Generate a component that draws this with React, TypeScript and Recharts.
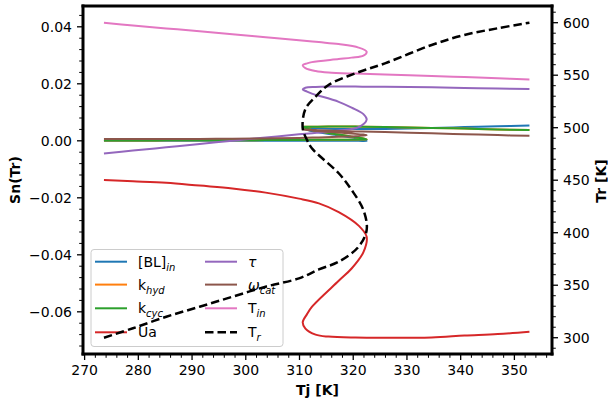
import React from 'react';
import { LineChart, Line, XAxis, YAxis, ReferenceLine } from 'recharts';

// points along the steady-state branch, in order of increasing Tr
const tjValues = [273.6, 279.0, 285.2, 291.4, 297.5, 303.7, 309.9, 313.6, 317.3, 321.0, 322.5, 321.9, 319.7, 317.3, 312.3, 311.4, 310.6, 311.1, 313.0, 315.4, 320.4, 325.9, 334.6, 340.7, 346.9, 352.8];
const trValues = [300.0, 309.0, 320.0, 329.5, 339.0, 348.6, 356.5, 365.0, 372.4, 386.7, 402.6, 421.6, 440.7, 456.6, 480.4, 488.3, 499.4, 517.8, 529.5, 540.7, 551.8, 561.3, 578.8, 588.3, 594.7, 600.0];

// normalised sensitivities Sn(Tr) for each parameter
const blIn = [0.00004, 0.00004, 0.00004, 0.00003, 0.00003, 0.00003, 0.00002, 0.00002, 0.00001, 0.0, -0.00001, 0.00042, 0.00112, 0.00189, 0.0034, 0.00393, 0.00446, 0.00453, 0.00439, 0.00425, 0.00411, 0.00418, 0.00453, 0.00481, 0.00509, 0.0054];
const kHyd = [0.00014, 0.00014, 0.00016, 0.00018, 0.00021, 0.00025, 0.00032, 0.00035, 0.00039, 0.00042, 0.00049, 0.00084, 0.00147, 0.00218, 0.00375, 0.00428, 0.00481, 0.00491, 0.00495, 0.00498, 0.00498, 0.00488, 0.00453, 0.00428, 0.004, 0.00375];
const kCyc = [0.00014, 0.00014, 0.00016, 0.00018, 0.00021, 0.00025, 0.00032, 0.00035, 0.00039, 0.00042, 0.00049, 0.00084, 0.00147, 0.00218, 0.00375, 0.00428, 0.00481, 0.00491, 0.00495, 0.00498, 0.00498, 0.00488, 0.00453, 0.00428, 0.004, 0.00375];
const ua = [-0.01379, -0.01421, -0.01474, -0.01572, -0.0167, -0.01818, -0.02028, -0.02196, -0.02502, -0.02975, -0.03368, -0.03905, -0.04480, -0.04912, -0.05825, -0.06081, -0.06362, -0.06589, -0.068, -0.0687, -0.06905, -0.06912, -0.06898, -0.06835, -0.06782, -0.06702];
const tau = [-0.00442, -0.00344, -0.00228, -0.00112, 0.00004, 0.00116, 0.00228, 0.00288, 0.00358, 0.00481, 0.00744, 0.00937, 0.01165, 0.01368, 0.01656, 0.01726, 0.01804, 0.01863, 0.01891, 0.01902, 0.01902, 0.01895, 0.01877, 0.01856, 0.01835, 0.01814];
const omegaCat = [0.0006, 0.0006, 0.00063, 0.00067, 0.00074, 0.00084, 0.00102, 0.00119, 0.0014, 0.00172, 0.002, 0.00218, 0.00253, 0.00288, 0.00358, 0.00375, 0.00396, 0.00393, 0.00375, 0.00358, 0.0033, 0.00305, 0.00263, 0.00232, 0.002, 0.00175];
const tIn = [0.0414, 0.04049, 0.03944, 0.03842, 0.03737, 0.03635, 0.0353, 0.03463, 0.03393, 0.0327, 0.03123, 0.02989, 0.02919, 0.02867, 0.02761, 0.02716, 0.02656, 0.02551, 0.02446, 0.02393, 0.02358, 0.0233, 0.02277, 0.02235, 0.02193, 0.02154];

const rows = tjValues.map((tj, i) => ({
  tj,
  tr: trValues[i],
  bl: blIn[i],
  khyd: kHyd[i],
  kcyc: kCyc[i],
  ua: ua[i],
  tau: tau[i],
  wcat: omegaCat[i],
  tin: tIn[i],
}));

const series = [
  { key: 'bl', color: '#1f77b4', base: '[BL]', sub: 'in', italic: false },
  { key: 'khyd', color: '#ff7f0e', base: 'k', sub: 'hyd', italic: false },
  { key: 'kcyc', color: '#2ca02c', base: 'k', sub: 'cyc', italic: false },
  { key: 'ua', color: '#d62728', base: 'Ua', sub: '', italic: false },
  { key: 'tau', color: '#9467bd', base: 'τ', sub: '', italic: true },
  { key: 'wcat', color: '#8c564b', base: 'ω', sub: 'cat', italic: true },
  { key: 'tin', color: '#e377c2', base: 'T', sub: 'in', italic: false },
];

const W = 608;
const H = 403;
const FONT = '"DejaVu Sans", sans-serif';
const X_DOMAIN: [number, number] = [269.7, 357.0];
const LEFT_DOMAIN: [number, number] = [-0.0748, 0.0473];
const RIGHT_DOMAIN: [number, number] = [284.5, 615.9];
const MARGIN = { top: 6, right: 0, bottom: 0, left: 0 };

const range = (a: number, b: number, step: number) => {
  const out: number[] = [];
  for (let v = a; v <= b + step / 1000; v += step) out.push(Math.round(v * 1e6) / 1e6);
  return out;
};
const xTicks = range(270, 356, 2);
const leftTicks = range(-0.072, 0.044, 0.004);
const rightTicks = range(290, 610, 10);

const isMajor = (v: number, step: number) => Math.abs(v / step - Math.round(v / step)) < 1e-6;
const minus = (s: string) => s.replace('-', '\u2212');

// centripetal Catmull-Rom curve: the branches fold back in x, so a
// parametric curve is needed (monotone curves would break at the turns)
function catmullRom(context: any) {
  let pts: number[][] = [];
  return {
    areaStart() {},
    areaEnd() {},
    lineStart() {
      pts = [];
    },
    point(x: number, y: number) {
      pts.push([+x, +y]);
    },
    lineEnd() {
      const n = pts.length;
      if (!n) return;
      context.moveTo(pts[0][0], pts[0][1]);
      const dist = (a: number[], b: number[]) => Math.hypot(b[0] - a[0], b[1] - a[1]);
      for (let i = 0; i < n - 1; i++) {
        const p0 = pts[Math.max(i - 1, 0)];
        const p1 = pts[i];
        const p2 = pts[i + 1];
        const p3 = pts[Math.min(i + 2, n - 1)];
        const l01 = dist(p0, p1);
        const l12 = dist(p1, p2);
        const l23 = dist(p2, p3);
        const l01a = Math.sqrt(l01);
        const l12a = Math.sqrt(l12);
        const l23a = Math.sqrt(l23);
        let c1x = p1[0];
        let c1y = p1[1];
        let c2x = p2[0];
        let c2y = p2[1];
        if (l01a > 1e-6) {
          const a = 2 * l01 + 3 * l01a * l12a + l12;
          const m = 3 * l01a * (l01a + l12a);
          c1x = (p1[0] * a - p0[0] * l12 + p2[0] * l01) / m;
          c1y = (p1[1] * a - p0[1] * l12 + p2[1] * l01) / m;
        }
        if (l23a > 1e-6) {
          const b = 2 * l23 + 3 * l23a * l12a + l12;
          const m = 3 * l23a * (l23a + l12a);
          c2x = (p2[0] * b + p1[0] * l23 - p3[0] * l12) / m;
          c2y = (p2[1] * b + p1[1] * l23 - p3[1] * l12) / m;
        }
        context.bezierCurveTo(c1x, c1y, c2x, c2y, p2[0], p2[1]);
      }
    },
  };
}

function BottomTick(props: any) {
  const { x, y, payload } = props;
  const major = isMajor(payload.value, 10);
  return (
    <g>
      <line x1={x} x2={x} y1={y} y2={y + (major ? 6 : 3.8)} stroke="#000" strokeWidth={major ? 1.3 : 1} />
      {major && (
        <text x={x} y={y + 21} textAnchor="middle" fontSize={14} fontFamily={FONT} fill="#000">
          {String(payload.value)}
        </text>
      )}
    </g>
  );
}

function LeftTick(props: any) {
  const { x, y, payload } = props;
  const major = isMajor(payload.value, 0.02);
  return (
    <g>
      <line x1={x} x2={x - (major ? 6 : 3.8)} y1={y} y2={y} stroke="#000" strokeWidth={major ? 1.3 : 1} />
      {major && (
        <text x={x - 11} y={y} dy="0.36em" textAnchor="end" fontSize={14} fontFamily={FONT} fill="#000">
          {minus(payload.value.toFixed(2))}
        </text>
      )}
    </g>
  );
}

function RightTick(props: any) {
  const { x, y, payload } = props;
  const major = isMajor(payload.value, 50);
  return (
    <g>
      <line x1={x} x2={x + (major ? 6 : 3.8)} y1={y} y2={y} stroke="#000" strokeWidth={major ? 1.3 : 1} />
      {major && (
        <text x={x + 11} y={y} dy="0.36em" textAnchor="start" fontSize={14} fontFamily={FONT} fill="#000">
          {String(payload.value)}
        </text>
      )}
    </g>
  );
}

const spine = { stroke: '#000', strokeWidth: 3, strokeLinecap: 'square' as const };

function LegendLabel({ x, y, base, sub, italic }: { x: number; y: number; base: string; sub: string; italic: boolean }) {
  return (
    <text x={x} y={y} dy="0.36em" fontSize={14} fontFamily={FONT} fill="#000">
      <tspan fontStyle={italic ? 'italic' : 'normal'}>{base}</tspan>
      {sub && (
        <tspan fontSize={10} fontStyle="italic" dy={4}>
          {sub}
        </tspan>
      )}
    </text>
  );
}

export default function App() {
  const rowY = [261.7, 284.6, 308.3, 332.3];
  const legendCols = [
    { lineX: 95, textX: 138 },
    { lineX: 205, textX: 248 },
  ];

  return (
    <div style={{ position: 'absolute', left: 0, top: 0, width: W, height: H, background: '#fff', fontFamily: FONT }}>
      {/* sensitivities on the left axis */}
      <div style={{ position: 'absolute', left: 0, top: 0 }}>
        <LineChart width={W} height={H} data={rows} margin={MARGIN}>
          <XAxis
            dataKey="tj"
            type="number"
            domain={X_DOMAIN}
            allowDataOverflow
            ticks={xTicks}
            interval={0}
            height={49}
            tickSize={0}
            tickMargin={0}
            tickLine={false}
            axisLine={spine}
            tick={BottomTick}
          />
          <YAxis
            yAxisId="left"
            type="number"
            domain={LEFT_DOMAIN}
            allowDataOverflow
            ticks={leftTicks}
            interval={0}
            width={83}
            tickSize={0}
            tickMargin={0}
            tickLine={false}
            axisLine={spine}
            tick={LeftTick}
          />
          <YAxis
            yAxisId="right"
            orientation="right"
            type="number"
            domain={RIGHT_DOMAIN}
            allowDataOverflow
            ticks={rightTicks}
            interval={0}
            width={56}
            tickSize={0}
            tickMargin={0}
            tickLine={false}
            axisLine={spine}
            tick={RightTick}
          />
          <ReferenceLine yAxisId="left" y={LEFT_DOMAIN[1]} stroke="#000" strokeWidth={3} strokeLinecap="square" />
          {series.map((s) => (
            <Line
              key={s.key}
              yAxisId="left"
              dataKey={s.key}
              type={catmullRom as any}
              stroke={s.color}
              strokeWidth={2}
              dot={false}
              activeDot={false}
              isAnimationActive={false}
            />
          ))}
        </LineChart>
      </div>

      {/* axis labels and legend */}
      <svg width={W} height={H} style={{ position: 'absolute', left: 0, top: 0 }}>
        <text
          transform="translate(15,180) rotate(-90)"
          textAnchor="middle"
          dy="0.36em"
          fontSize={14}
          fontWeight="bold"
          fontFamily={FONT}
        >
          Sn(Tr)
        </text>
        <text
          transform="translate(601,181) rotate(-90)"
          textAnchor="middle"
          dy="0.36em"
          fontSize={14}
          fontWeight="bold"
          fontFamily={FONT}
        >
          Tr [K]
        </text>
        <text x={317.5} y={395} textAnchor="middle" fontSize={14} fontWeight="bold" fontFamily={FONT}>
          Tj [K]
        </text>

        <rect x={91} y={249.5} width={192} height={97} rx={3} fill="rgba(255,255,255,0.8)" stroke="#cccccc" strokeWidth={1} />
        {series.map((s, i) => {
          const col = legendCols[Math.floor(i / 4)];
          const y = rowY[i % 4];
          return (
            <g key={s.key}>
              <line x1={col.lineX} x2={col.lineX + 32} y1={y} y2={y} stroke={s.color} strokeWidth={2} />
              <LegendLabel x={col.textX} y={y} base={s.base} sub={s.sub} italic={s.italic} />
            </g>
          );
        })}
        <line x1={205} x2={237} y1={rowY[3]} y2={rowY[3]} stroke="#000" strokeWidth={2.5} strokeDasharray="8.5 4" />
        <LegendLabel x={248} y={rowY[3]} base="T" sub="r" italic={false} />
      </svg>

      {/* reactor temperature on the right axis, drawn over the legend */}
      <div style={{ position: 'absolute', left: 0, top: 0, pointerEvents: 'none' }}>
        <LineChart width={W} height={H} data={rows} margin={MARGIN}>
          <XAxis
            dataKey="tj"
            type="number"
            domain={X_DOMAIN}
            allowDataOverflow
            height={49}
            tick={false}
            tickLine={false}
            axisLine={false}
          />
          <YAxis yAxisId="left" type="number" domain={LEFT_DOMAIN} allowDataOverflow width={83} tick={false} tickLine={false} axisLine={false} />
          <YAxis
            yAxisId="right"
            orientation="right"
            type="number"
            domain={RIGHT_DOMAIN}
            allowDataOverflow
            width={56}
            tick={false}
            tickLine={false}
            axisLine={false}
          />
          <Line
            yAxisId="right"
            dataKey="tr"
            type={catmullRom as any}
            stroke="#000"
            strokeWidth={2.5}
            strokeDasharray="8.5 4"
            dot={false}
            activeDot={false}
            isAnimationActive={false}
          />
        </LineChart>
      </div>
    </div>
  );
}
